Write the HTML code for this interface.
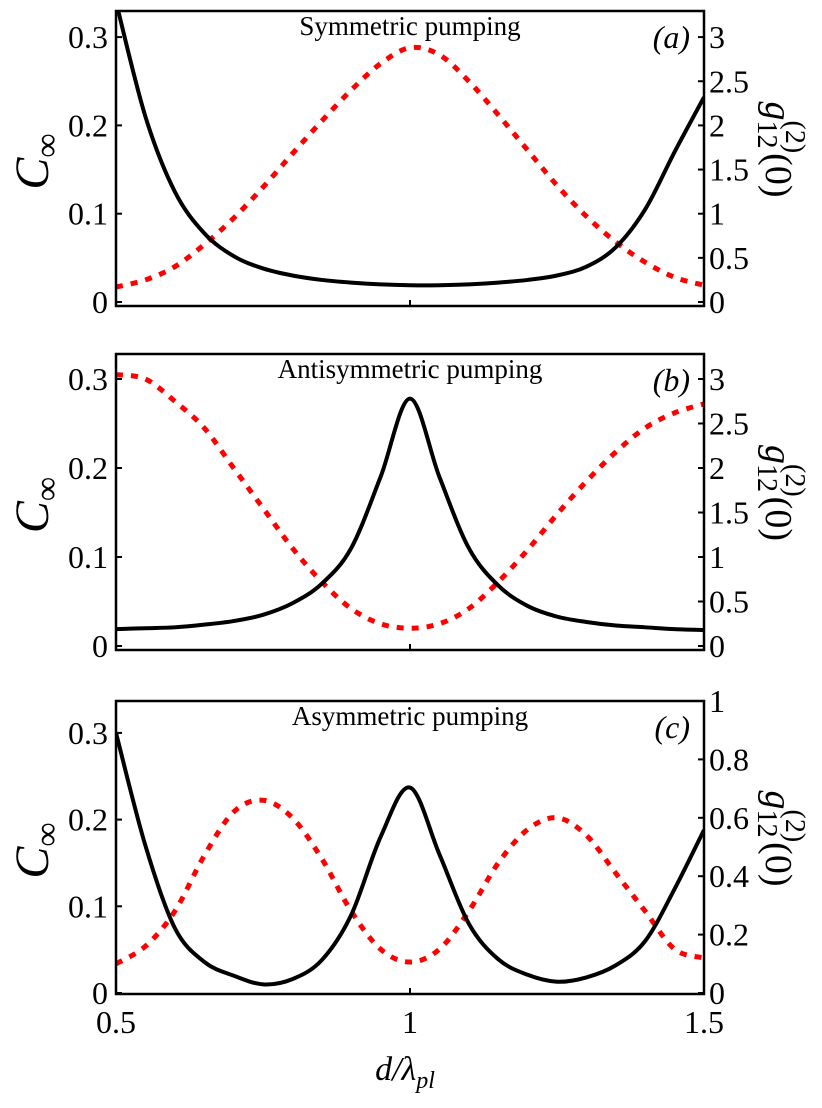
<!DOCTYPE html>
<html><head><meta charset="utf-8"><style>
html,body{margin:0;padding:0;background:#fff;}
svg text{font-family:"Liberation Serif",serif;fill:#000;}
</style></head><body>
<svg id="fig" width="822" height="1103" viewBox="0 0 822 1103" xmlns="http://www.w3.org/2000/svg"></svg>
<script>
// shared x categories
const dValues = [0.5,0.55,0.6,0.65,0.7,0.75,0.8,0.85,0.9,0.95,1.0,1.05,1.1,1.15,1.2,1.25,1.3,1.35,1.4,1.45,1.5];
// panel a
const concA = [0.34,0.21,0.125,0.078,0.052,0.038,0.03,0.025,0.022,0.02,0.019,0.019,0.02,0.022,0.025,0.03,0.04,0.062,0.105,0.17,0.232];
const g2A = [0.17,0.25,0.4,0.65,0.95,1.3,1.68,2.05,2.4,2.7,2.88,2.8,2.5,2.12,1.72,1.32,0.97,0.68,0.45,0.28,0.19];
// panel b
const concB = [0.019,0.02,0.021,0.024,0.028,0.035,0.048,0.07,0.11,0.19,0.278,0.19,0.11,0.068,0.045,0.033,0.027,0.023,0.021,0.019,0.018];
const g2B = [3.05,3.0,2.75,2.45,2.0,1.55,1.1,0.72,0.42,0.25,0.2,0.25,0.42,0.72,1.08,1.48,1.85,2.18,2.45,2.62,2.72];
// panel c
const concC = [0.30,0.17,0.075,0.036,0.02,0.01,0.016,0.038,0.09,0.18,0.237,0.16,0.08,0.039,0.021,0.013,0.018,0.032,0.06,0.12,0.188];
const g2C = [0.1,0.16,0.28,0.47,0.62,0.66,0.6,0.46,0.28,0.15,0.106,0.15,0.28,0.445,0.56,0.6,0.54,0.41,0.28,0.15,0.12];
// tick labels
const leftTicks = [0,0.1,0.2,0.3];
const rightTicksAB = [0,0.5,1,1.5,2,2.5,3];
const rightTicksC = [0,0.2,0.4,0.6,0.8,1];
const xTicks = [0.5,1,1.5];

const NS="http://www.w3.org/2000/svg";
const svg=document.getElementById('fig');
function mk(tag,attrs,parent){const e=document.createElementNS(NS,tag);for(const k in attrs)e.setAttribute(k,attrs[k]);(parent||svg).appendChild(e);return e;}
const X0=116,X1=704;
function xs(d){return X0+(d-0.5)/(1.0)*(X1-X0);}
function fmt(v){return String(v);}
function spline(pts){
  let p='M'+pts[0][0].toFixed(2)+','+pts[0][1].toFixed(2);
  for(let i=0;i<pts.length-1;i++){
    const p0=pts[Math.max(i-1,0)],p1=pts[i],p2=pts[i+1],p3=pts[Math.min(i+2,pts.length-1)];
    const c1x=p1[0]+(p2[0]-p0[0])/6,c1y=p1[1]+(p2[1]-p0[1])/6;
    const c2x=p2[0]-(p3[0]-p1[0])/6,c2y=p2[1]-(p3[1]-p1[1])/6;
    p+=' C'+c1x.toFixed(2)+','+c1y.toFixed(2)+' '+c2x.toFixed(2)+','+c2y.toFixed(2)+' '+p2[0].toFixed(2)+','+p2[1].toFixed(2);
  }
  return p;
}
const panels=[
 {id:'a',top:11,bot:306,z:302,lk:883,rk:88.3,rt:rightTicksAB,c:concA,g:g2A,title:'Symmetric pumping',lab:'a'},
 {id:'b',top:354,bot:650,z:646,lk:890,rk:89,rt:rightTicksAB,c:concB,g:g2B,title:'Antisymmetric pumping',lab:'b'},
 {id:'c',top:701,bot:994,z:993,lk:867,rk:292,rt:rightTicksC,c:concC,g:g2C,title:'Asymmetric pumping',lab:'c'}
];
panels.forEach((P,pi)=>{
  const g=mk('g',{});
  
  
  const ly=v=>P.z-v*P.lk, ry=v=>P.z-v*P.rk;
  const cp=mk('clipPath',{id:'clip'+P.id},g);
  mk('rect',{x:X0,y:P.top,width:X1-X0,height:P.bot-P.top},cp);
  const rp=mk('path',{d:spline(dValues.map((d,i)=>[xs(d),ry(P.g[i])])),fill:'none',stroke:'#ff0000','stroke-width':5,'stroke-dasharray':'7 8','clip-path':'url(#clip'+P.id+')'},g);
  
  
  const bp=mk('path',{d:spline(dValues.map((d,i)=>[xs(d),ly(P.c[i])])),fill:'none',stroke:'#000','stroke-width':4,'clip-path':'url(#clip'+P.id+')'},g);
  
  
  const fr=mk('rect',{x:X0,y:P.top,width:X1-X0,height:P.bot-P.top,fill:'none',stroke:'#000','stroke-width':2.5},g);
  
  
  leftTicks.forEach(v=>{
    const y=ly(v);
    mk('line',{x1:X0,x2:X0+6,y1:y,y2:y,stroke:'#000','stroke-width':2},g);
    const t=mk('text',{x:X0-8,y:y+11,'text-anchor':'end','font-size':32},g);
    t.textContent=fmt(v);
    
    
  });
  P.rt.forEach(v=>{
    const y=ry(v);
    mk('line',{x1:X1-6,x2:X1,y1:y,y2:y,stroke:'#000','stroke-width':2},g);
    const t=mk('text',{x:X1+5,y:y+11,'text-anchor':'start','font-size':32},g);
    t.textContent=fmt(v);
    
    
  });
  xTicks.forEach(v=>{
    const x=xs(v);
    mk('line',{x1:x,x2:x,y1:P.bot,y2:P.bot-6,stroke:'#000','stroke-width':2},g);
    if(pi===2){
      const t=mk('text',{x:x,y:1033,'text-anchor':'middle','font-size':32},g);
      t.textContent=fmt(v);
      
      
    }
  });
  const tt=mk('text',{x:410,y:P.top+24,'text-anchor':'middle','font-size':27},g);
  tt.textContent=P.title;
  
  
  const pl=mk('text',{x:690,y:P.top+37,'text-anchor':'end','font-size':32,'font-style':'italic'},g);
  pl.textContent='('+P.lab+')';
  
  
  const cy=(P.top+P.bot)/2+3;
  const yl=mk('text',{transform:'translate(48,'+cy+') rotate(-90)','text-anchor':'middle','font-size':48,'font-style':'italic'},g);
  yl.innerHTML='C<tspan font-size="34" dy="10" font-style="normal">∞</tspan>';
  
  
  const rl=mk('text',{transform:'translate(766,'+(cy-12)+') rotate(90)','text-anchor':'middle','font-size':38},g);
  rl.innerHTML='<tspan font-style="italic">g</tspan><tspan font-size="28" dy="8">12</tspan><tspan font-size="28" dx="-28" dy="-28">(2)</tspan><tspan dy="20">(0)</tspan>';
  
  
});
const xt=mk('text',{x:405,y:1080,'text-anchor':'middle','font-size':34,'font-style':'italic'});
xt.innerHTML='d/λ<tspan font-size="24" dy="8">pl</tspan>';


</script>
</body></html>
